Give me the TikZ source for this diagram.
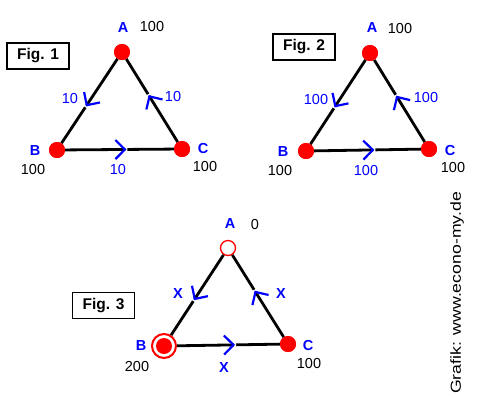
\documentclass[tikz,border=0pt]{standalone}
\usepackage{fontspec}
\setmainfont{Liberation Sans}
\usetikzlibrary{decorations.markings}
\tikzset{
  dot/.style={circle, fill=red, inner sep=0pt, minimum size=16pt},
  edge/.style={line width=2.8pt, black, postaction={decorate},
    decoration={markings, mark=at position 0.55 with {
      \fill[white] (0.5pt,-2pt) rectangle (2.5pt,2pt);
      \draw[blue, line width=2.2pt, line join=miter] (-9.5pt,-9.5pt) -- (0,0) -- (-9.5pt,9.5pt);}}},
  vlab/.style={text=blue, font=\fontsize{14.5}{16}\selectfont\bfseries, inner sep=0pt},
  val/.style={text=black, font=\fontsize{14.5}{16}\selectfont, inner sep=0pt},
  elab/.style={text=blue, font=\fontsize{14.5}{16}\selectfont, inner sep=0pt},
  xlab/.style={text=blue, font=\fontsize{14.5}{16}\selectfont\bfseries, inner sep=0pt},
  figbox/.style={draw=black, line width=1.8pt, minimum width=62pt, minimum height=26pt, inner sep=0pt, font=\fontsize{15.5}{17}\selectfont\bfseries},
}
\begin{document}
\begin{tikzpicture}[x=1pt, y=-1pt]
\useasboundingbox (0,0) rectangle (494,400);
% Fig 1
\node[figbox] (f1) at (38,56) {Fig. 1};
\node[dot] (A1) at (122,52) {};
\node[dot] (B1) at (57,150) {};
\node[dot] (C1) at (182,149) {};
\draw[edge] (A1) -- (B1);
\draw[edge] (B1) -- (C1);
\draw[edge] (C1) -- (A1);
\node[dot] at (A1) {};
\node[dot] at (B1) {};
\node[dot] at (C1) {};
\node[vlab] (la1) at (123,28) {A};
\node[val] (va1) at (152,27) {100};
\node[vlab] (lb1) at (35,151) {B};
\node[val] (vb1) at (33,170) {100};
\node[vlab] (lc1) at (203,149) {C};
\node[val] (vc1) at (205,167) {100};
\node[elab] (e11) at (70,99) {10};
\node[elab] (e12) at (173,97) {10};
\node[elab] (e13) at (118,170) {10};
% Fig 2
\node[figbox] (f2) at (304,47) {Fig. 2};
\node[dot] (A2) at (370,53) {};
\node[dot] (B2) at (306,151) {};
\node[dot] (C2) at (429,149) {};
\draw[edge] (A2) -- (B2);
\draw[edge] (B2) -- (C2);
\draw[edge] (C2) -- (A2);
\node[dot] at (A2) {};
\node[dot] at (B2) {};
\node[dot] at (C2) {};
\node[vlab] (la2) at (372,28) {A};
\node[val] (va2) at (400,29) {100};
\node[vlab] (lb2) at (283,152) {B};
\node[val] (vb2) at (280,171) {100};
\node[vlab] (lc2) at (450,151) {C};
\node[val] (vc2) at (453,168) {100};
\node[elab] (e21) at (316,100) {100};
\node[elab] (e22) at (426,98) {100};
\node[elab] (e23) at (366,171) {100};
% Fig 3
\node[figbox] (f3) at (103.5,305.5) {Fig. 3};
\node[circle, draw=red, fill=white, line width=1.3pt, inner sep=0pt, minimum size=15pt] (A3) at (228,248) {};
\node[circle, draw=red, fill=white, line width=2pt, inner sep=0pt, minimum size=24pt] (B3) at (164,346) {};
\node[dot] (C3) at (288,344) {};
\draw[edge] (A3) -- (B3);
\draw[edge] (B3) -- (C3);
\draw[edge] (C3) -- (A3);
\node[circle, fill=red, inner sep=0pt, minimum size=16pt] (B3in) at (B3) {};
\node[dot] at (C3) {};
\node[vlab] (la3) at (230,224) {A};
\node[val] (va3) at (255,224) {0};
\node[vlab] (lb3) at (141,346) {B};
\node[val] (vb3) at (137,366) {200};
\node[vlab] (lc3) at (308,345) {C};
\node[val] (vc3) at (309,363) {100};
\node[xlab] (e31) at (178,294) {X};
\node[xlab] (e32) at (281,294) {X};
\node[xlab] (e33) at (224,367) {X};
% credit
\node[rotate=90, inner sep=0pt, font=\fontsize{14.5}{16}\selectfont] (credit) at (457,293) {\scalebox{1.22}[1]{Grafik: www.econo-my.de}};
\end{tikzpicture}
\end{document}
